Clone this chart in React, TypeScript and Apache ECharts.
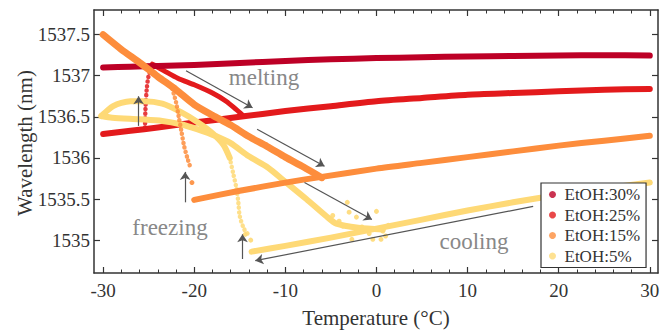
import React, { useEffect, useRef } from "react";
import * as echarts from "echarts";

// ---------- data (temperature °C, wavelength nm) ----------
const seriesNames = ["EtOH:30%", "EtOH:25%", "EtOH:15%", "EtOH:5%"];
const seriesColors = ["#bd0026", "#e31a1c", "#fd8d3c", "#fed976"];

const xMajorTicks = [-30, -20, -10, 0, 10, 20, 30];
const xMinorTicks = [-28, -26, -24, -22, -18, -16, -14, -12, -8, -6, -4, -2, 2, 4, 6, 8, 12, 14, 16, 18, 22, 24, 26, 28];
const yMajorTicks = [1535, 1535.5, 1536, 1536.5, 1537, 1537.5];

// EtOH 30 %
const e30Line = [[-30, 1537.10], [-27, 1537.11], [-24, 1537.12], [-20, 1537.13], [-15, 1537.155], [-10, 1537.18], [-5, 1537.2], [0, 1537.215], [5, 1537.225], [10, 1537.235], [15, 1537.24], [20, 1537.245], [25, 1537.25], [30, 1537.245]];

// EtOH 25 %
const e25Cool = [[-30, 1536.29], [-27, 1536.33], [-24, 1536.37], [-20, 1536.43], [-15, 1536.5], [-10, 1536.57], [-5, 1536.63], [0, 1536.69], [5, 1536.73], [10, 1536.77], [15, 1536.79], [20, 1536.81], [25, 1536.83], [30, 1536.84]];
const e25Freeze = [[-25.4, 1536.37], [-25.35, 1536.6], [-25.2, 1536.85], [-25.0, 1537.0], [-24.6, 1537.1], [-24.2, 1537.14]];
const e25Melt = [[-24.6, 1537.14], [-23.3, 1537.06], [-21.8, 1536.97], [-20, 1536.89], [-18, 1536.79], [-16.5, 1536.69], [-15.4, 1536.59], [-14.7, 1536.52]];

// EtOH 15 %
const e15Cool = [[-20, 1535.49], [-15, 1535.6], [-10, 1535.7], [-6, 1535.77], [0, 1535.87], [5, 1535.94], [10, 1536.01], [15, 1536.08], [20, 1536.15], [25, 1536.21], [30, 1536.27]];
const e15Melt = [[-30, 1537.5], [-28, 1537.32], [-26, 1537.16], [-24, 1536.99], [-22, 1536.83], [-20, 1536.65], [-18, 1536.52], [-16, 1536.4], [-14, 1536.26], [-12, 1536.14], [-10, 1536.01], [-8, 1535.89], [-6, 1535.76]];
const e15Freeze = [[-22.4, 1536.84], [-22.0, 1536.68], [-21.7, 1536.5], [-21.4, 1536.32], [-21.1, 1536.14], [-20.7, 1535.98], [-20.4, 1535.88]];
const e15Dots = [[-20.25, 1535.7]];

// EtOH 5 %
const e5Cool = [[-13.7, 1534.86], [-10, 1534.93], [-5, 1535.03], [0, 1535.14], [5, 1535.25], [10, 1535.36], [15, 1535.46], [20, 1535.55], [25, 1535.63], [30, 1535.7]];
const e5Loop = [[-30.2, 1536.51], [-29.5, 1536.58], [-28.9, 1536.63], [-28, 1536.67], [-27, 1536.69], [-25.5, 1536.69], [-23.5, 1536.66], [-21.5, 1536.56], [-19.7, 1536.44], [-18, 1536.3], [-16.8, 1536.16], [-16.1, 1536.0]];
const e5Freeze = [[-16.1, 1536.0], [-15.7, 1535.8], [-15.35, 1535.62], [-15.15, 1535.45], [-15.0, 1535.29], [-14.5, 1535.13], [-13.9, 1535.05]];
const e5Melt = [[-30.2, 1536.51], [-29, 1536.49], [-26, 1536.47], [-23.5, 1536.45], [-21.5, 1536.41], [-19.7, 1536.35], [-17.5, 1536.26], [-16, 1536.18], [-14, 1536.02], [-12, 1535.89], [-10, 1535.71], [-7.7, 1535.5], [-5.5, 1535.29], [-4.4, 1535.2], [-2, 1535.15], [0.7, 1535.13]];
const e5Dots = [[-3.2, 1535.46], [-3.0, 1535.34], [-4.1, 1535.23], [-2.2, 1535.28], [-1.6, 1535.16], [0.0, 1535.35], [-0.2, 1535.13], [0.7, 1535.11], [-2.7, 1535.01], [-0.4, 1535.01], [0.5, 1535.01], [-3.7, 1535.17], [-4.8, 1535.3], [-5.4, 1535.28], [1.0, 1535.05], [-0.8, 1535.08], [1.3, 1535.18], [-14.4, 1535.07], [-13.8, 1535.0]];

// annotation arrows [from, to]
const arrows = [
  [[-20.9, 1537.06], [-13.6, 1536.61]],
  [[-13.1, 1536.35], [-5.7, 1535.9]],
  [[-7.9, 1535.7], [-0.5, 1535.25]],
  [[17.2, 1535.41], [-13.3, 1534.75]],
  [[-26.1, 1536.39], [-26.1, 1536.75]],
  [[-21.0, 1535.46], [-21.0, 1535.83]],
  [[-14.7, 1534.77], [-14.7, 1535.07]],
];

const FONT = "Liberation Serif, Times New Roman, serif";
const AXIS = "#333";

function thick(idx: number, data: number[][], width = 6, extra: any = {}) {
  return {
    name: seriesNames[idx],
    type: "line",
    data,
    showSymbol: false,
    symbol: "none",
    smooth: 0.25,
    silent: true,
    itemStyle: { color: seriesColors[idx] },
    lineStyle: { color: seriesColors[idx], width, cap: "round", join: "round" },
    ...extra,
  };
}
function dotted(idx: number, data: number[][]) {
  return {
    name: seriesNames[idx],
    type: "line",
    data,
    showSymbol: false,
    symbol: "none",
    smooth: 0.3,
    silent: true,
    itemStyle: { color: seriesColors[idx] },
    lineStyle: { color: seriesColors[idx], width: 4.5, type: [0.1, 4.5], cap: "round", opacity: 0.85 },
  };
}
function dots(idx: number, data: number[][]) {
  return {
    name: seriesNames[idx],
    type: "scatter",
    data,
    symbolSize: 5,
    silent: true,
    itemStyle: { color: seriesColors[idx], opacity: 0.9 },
  };
}

const plain = (v: number) => String(v);

export default function App() {
  const ref = useRef<HTMLDivElement>(null);
  useEffect(() => {
    if (!ref.current) return;
    const chart = echarts.init(ref.current, null, { renderer: "svg" });
    const baseX = {
      type: "value",
      min: -31,
      max: 30.9,
      splitLine: { show: false },
    };
    const baseY = {
      type: "value",
      min: 1534.6,
      max: 1537.8,
      splitLine: { show: false },
    };
    const option: any = {
      animation: false,
      backgroundColor: "#fff",
      grid: { left: 94, right: 12, top: 10, bottom: 58, containLabel: false },
      xAxis: [
        {
          ...baseX,
          position: "bottom",
          axisLine: { show: true, onZero: false, lineStyle: { color: AXIS, width: 1.5 } },
          axisTick: { show: true, inside: true, length: 6, customValues: xMajorTicks, lineStyle: { color: AXIS, width: 1.2 } },
          axisLabel: { show: true, customValues: xMajorTicks, formatter: plain, margin: 8, fontSize: 19, fontFamily: FONT, color: "#333" },
        },
        {
          ...baseX,
          position: "bottom",
          axisLine: { show: false, onZero: false },
          axisTick: { show: true, inside: true, length: 3.5, customValues: xMinorTicks, lineStyle: { color: AXIS, width: 1 } },
          axisLabel: { show: false },
        },
        {
          ...baseX,
          position: "top",
          axisLine: { show: true, onZero: false, lineStyle: { color: AXIS, width: 1.5 } },
          axisTick: { show: true, inside: true, length: 6, customValues: xMajorTicks, lineStyle: { color: AXIS, width: 1.2 } },
          axisLabel: { show: false },
        },
        {
          ...baseX,
          position: "top",
          axisLine: { show: false, onZero: false },
          axisTick: { show: true, inside: true, length: 3.5, customValues: xMinorTicks, lineStyle: { color: AXIS, width: 1 } },
          axisLabel: { show: false },
        },
      ],
      yAxis: [
        {
          ...baseY,
          position: "left",
          axisLine: { show: true, onZero: false, lineStyle: { color: AXIS, width: 1.5 } },
          axisTick: { show: true, inside: true, length: 6, customValues: yMajorTicks, lineStyle: { color: AXIS, width: 1.2 } },
          axisLabel: { show: true, customValues: yMajorTicks, formatter: plain, margin: 4, fontSize: 19, fontFamily: FONT, color: "#333" },
        },
        {
          ...baseY,
          position: "right",
          axisLine: { show: true, onZero: false, lineStyle: { color: AXIS, width: 1.5 } },
          axisTick: { show: true, inside: true, length: 6, customValues: yMajorTicks, lineStyle: { color: AXIS, width: 1.2 } },
          axisLabel: { show: false },
        },
      ],
      legend: {
        orient: "vertical",
        left: 541,
        top: 183,
        icon: "circle",
        itemWidth: 14,
        itemHeight: 7,
        itemGap: 3.5,
        padding: [3, 6, 3, 8],
        borderColor: "#333",
        borderWidth: 1.2,
        backgroundColor: "#fff",
        selectedMode: false,
        data: seriesNames.map((n, i) => ({ name: n, itemStyle: { color: seriesColors[i], opacity: 0.8 } })),
        textStyle: { fontSize: 17, fontFamily: FONT, color: "#333" },
      },
      series: [
        thick(1, e25Cool),
        dotted(1, e25Freeze),
        thick(1, e25Melt, 5),
        thick(0, e30Line, 6, {
          markLine: {
            silent: true,
            symbol: ["none", "arrow"],
            symbolSize: 8,
            label: { show: false },
            lineStyle: { color: "#555", width: 1.2, type: "solid" },
            emphasis: { disabled: true },
            data: arrows.map(([a, b]) => [{ coord: a }, { coord: b }]),
          },
        }),
        thick(3, e5Cool),
        thick(3, e5Loop),
        dotted(3, e5Freeze),
        thick(3, e5Melt),
        dots(3, e5Dots),
        thick(2, e15Cool),
        thick(2, e15Melt, 7),
        dotted(2, e15Freeze),
        dots(2, e15Dots),
      ],
      graphic: [
        { type: "text", x: 264, y: 77, style: { text: "melting", fontSize: 23, fontFamily: FONT, fill: "#888", align: "center", verticalAlign: "middle" } },
        { type: "text", x: 170, y: 227, style: { text: "freezing", fontSize: 23, fontFamily: FONT, fill: "#888", align: "center", verticalAlign: "middle" } },
        { type: "text", x: 474, y: 241, style: { text: "cooling", fontSize: 23, fontFamily: FONT, fill: "#888", align: "center", verticalAlign: "middle" } },
        { type: "text", x: 376, y: 318, style: { text: "Temperature (°C)", fontSize: 21, fontFamily: FONT, fill: "#333", align: "center", verticalAlign: "middle" } },
        { type: "text", x: 25, y: 143, rotation: Math.PI / 2, style: { text: "Wavelength (nm)", fontSize: 21, fontFamily: FONT, fill: "#333", align: "center", verticalAlign: "middle" } },
      ],
    };
    chart.setOption(option);
    return () => chart.dispose();
  }, []);
  return <div ref={ref} style={{ position: "fixed", left: 0, top: 0, width: 670, height: 331 }} />;
}
